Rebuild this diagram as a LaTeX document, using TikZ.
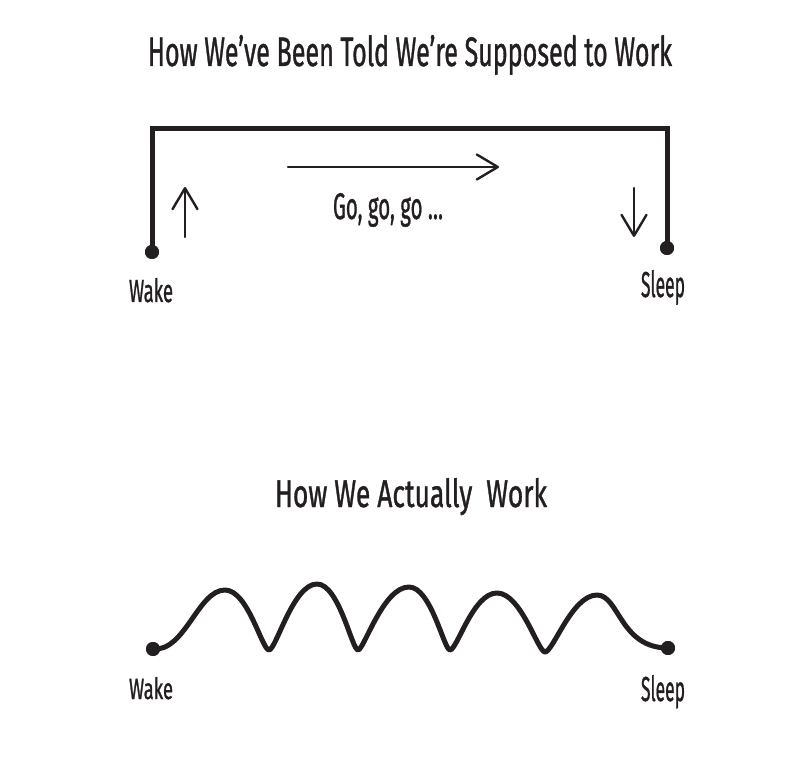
\documentclass[tikz,border=0pt]{standalone}
\usepackage{fontspec}
\setmainfont{Fira Sans}
\newfontfamily\labelfont{Fira Sans}[FakeBold=1.2]
\usetikzlibrary{arrows.meta}
\definecolor{ink}{HTML}{231F20}
\tikzset{
  dotnode/.style={circle,fill=ink,inner sep=0pt,minimum size=14pt},
  label/.style={inner sep=0pt,anchor=base,text=ink,font=\labelfont},
  thickline/.style={draw=ink,line width=5pt},
  thinarrow/.style={draw=ink,line width=2.4pt,line cap=round,-{Straight Barb[length=21pt,width=25pt,round]}},
}
\newcommand{\fitbox}[3]{\resizebox{#1pt}{#2pt}{#3}}
\begin{document}
\begin{tikzpicture}[x=1pt,y=-1pt]
\useasboundingbox (0,0) rectangle (796,762);
% ---------- top diagram ----------
\node[label] (title1) at (410,66) {\fitbox{524}{31}{How We’ve Been Told We’re Supposed to Work}};
\node[dotnode] (wake1) at (152,252) {};
\node[dotnode] (sleep1) at (667,248) {};
\coordinate (tl) at (152,129);
\coordinate (tr) at (667,129);
\draw[thickline,line join=miter] (wake1.center) -- (tl) -- (tr) -- (sleep1.center);
\node[dotnode] at (wake1) {};
\node[dotnode] at (sleep1) {};
\coordinate (ua) at (185,237);
\coordinate (ub) at (185,187);
\draw[thinarrow] (ua) -- (ub);
\coordinate (ra) at (288,167);
\coordinate (rb) at (499,167);
\draw[thinarrow] (ra) -- (rb);
\coordinate (da) at (634,188);
\coordinate (db) at (634,237);
\draw[thinarrow] (da) -- (db);
\node[label] (go) at (388,219) {\fitbox{110}{26}{Go, go, go …}};
\node[label] (wakelab1) at (151,302) {\fitbox{44}{24}{Wake}};
\node[label] (sleeplab1) at (663,297) {\fitbox{44}{27}{Sleep}};
% ---------- bottom diagram ----------
\node[label] (title2) at (411,507) {\fitbox{272}{29}{How We Actually\ \ Work}};
\node[dotnode] (wake2) at (153,649) {};
\node[dotnode] (sleep2) at (668,648) {};
\draw[thickline,line cap=round,line join=round]
  (wake2.center) .. controls (185,652) and (198,590) .. (225,590)
  .. controls (248,590) and (262,650) .. (269,650)
  .. controls (276,650) and (293,584) .. (317,584)
  .. controls (339,584) and (352,650) .. (358,650)
  .. controls (364,650) and (383,587) .. (409,587)
  .. controls (431,587) and (444,650) .. (450,650)
  .. controls (457,650) and (473,593) .. (497,593)
  .. controls (521,593) and (538,652) .. (545,652)
  .. controls (553,652) and (572,595) .. (597,595)
  .. controls (619,595) and (620,648) .. (sleep2.center);
\node[dotnode] at (wake2) {};
\node[dotnode] at (sleep2) {};
\node[label] (wakelab2) at (151,699) {\fitbox{44}{22}{Wake}};
\node[label] (sleeplab2) at (663,701) {\fitbox{44}{26}{Sleep}};
\end{tikzpicture}
\end{document}
